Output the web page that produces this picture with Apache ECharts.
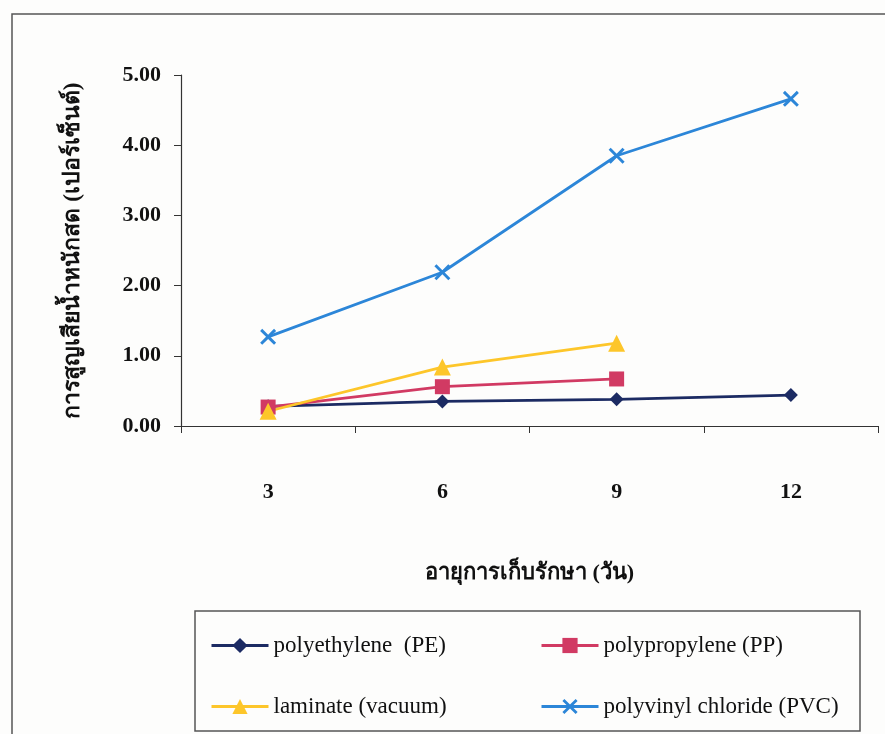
<!DOCTYPE html>
<html>
<head>
<meta charset="utf-8">
<script src="https://cdn.jsdelivr.net/npm/echarts@6/dist/echarts.min.js"></script>
<style>
  html, body { margin: 0; padding: 0; background: #fdfdfc; }
  #chart { width: 885px; height: 734px; }
</style>
</head>
<body>
<div id="chart"></div>
<script>
// Storage time (days)
const days = ['3', '6', '9', '12'];

// Fresh weight loss (%) per packaging type
const pe = [0.28, 0.35, 0.38, 0.44];
const pp = [0.27, 0.56, 0.67, null];
const laminate = [0.21, 0.84, 1.18, null];
const pvc = [1.27, 2.19, 3.85, 4.66];

const seriesNames = [
  'polyethylene  (PE)',
  'polypropylene (PP)',
  'laminate (vacuum)',
  'polyvinyl chloride (PVC)'
];

const yTicks = [0, 1, 2, 3, 4, 5];

const xTitle = 'อายุการเก็บรักษา (วัน)';
const yTitle = 'การสูญเสียน้ำหนักสด (เปอร์เซ็นต์)';

const colors = ['#1c2b63', '#d13a63', '#fdc62a', '#2c86d8'];
const crossPath = 'path://M0,1.3 L1.3,0 L5,3.7 L8.7,0 L10,1.3 L6.3,5 L10,8.7 L8.7,10 L5,6.3 L1.3,10 L0,8.7 L3.7,5 Z';

const serif = '"Liberation Serif", "Times New Roman", serif';
const axisColor = '#333';

function lineSeries(name, data, color, symbol, size) {
  return {
    name: name,
    type: 'line',
    data: data,
    symbol: symbol,
    symbolSize: size,
    showSymbol: true,
    connectNulls: false,
    lineStyle: { color: color, width: 2.8 },
    itemStyle: { color: color },
    emphasis: { disabled: true },
    animation: false
  };
}

const legendBase = {
  orient: 'vertical',
  top: 629,
  itemWidth: 57, itemHeight: 19,
  itemGap: 38,
  lineStyle: { width: 3 },
  textStyle: { color: '#111', fontSize: 23, fontFamily: serif },
  selectedMode: false
};

const chart = echarts.init(document.getElementById('chart'));
chart.setOption({
  backgroundColor: '#fdfdfc',
  animation: false,
  grid: { left: 181, right: 7, top: 75, bottom: 308, containLabel: false },
  xAxis: {
    type: 'category',
    data: days,
    boundaryGap: true,
    name: xTitle,
    nameLocation: 'middle',
    nameGap: 136,
    nameTextStyle: { color: '#111', fontSize: 22, fontWeight: 'bold', fontFamily: serif },
    axisLine: { lineStyle: { color: axisColor, width: 1.2 } },
    axisTick: { show: true, length: 7, alignWithLabel: false, lineStyle: { color: axisColor } },
    axisLabel: { margin: 55, color: '#111', fontSize: 22, fontWeight: 'bold', fontFamily: serif },
    splitLine: { show: false }
  },
  yAxis: {
    type: 'value',
    min: yTicks[0],
    max: yTicks[yTicks.length - 1],
    interval: 1,
    name: yTitle,
    nameLocation: 'middle',
    nameGap: 96,
    nameRotate: 90,
    nameTextStyle: { color: '#111', fontSize: 23, fontWeight: 'bold', fontFamily: serif },
    axisLine: { show: true, lineStyle: { color: axisColor, width: 1.2 } },
    axisTick: { show: true, length: 7, lineStyle: { color: axisColor } },
    axisLabel: {
      margin: 20, color: '#111', fontSize: 22, fontWeight: 'bold', fontFamily: serif,
      formatter: v => v.toFixed(2)
    },
    splitLine: { show: false }
  },
  legend: [
    Object.assign({ data: [seriesNames[0], seriesNames[2]], left: 205 }, legendBase),
    Object.assign({ data: [seriesNames[1], seriesNames[3]], left: 535 }, legendBase)
  ],
  graphic: [
    {
      type: 'rect', silent: true, z: -1,
      shape: { x: 12, y: 14, width: 900, height: 800 },
      style: { fill: 'none', stroke: '#555', lineWidth: 1.5 }
    },
    {
      type: 'rect', silent: true, z: -1,
      shape: { x: 195, y: 611, width: 665, height: 120 },
      style: { fill: 'none', stroke: '#555', lineWidth: 1.5 }
    }
  ],
  series: [
    lineSeries(seriesNames[0], pe, colors[0], 'diamond', 14),
    lineSeries(seriesNames[1], pp, colors[1], 'rect', 15),
    lineSeries(seriesNames[2], laminate, colors[2], 'triangle', 17),
    lineSeries(seriesNames[3], pvc, colors[3], crossPath, 16)
  ]
});
</script>
</body>
</html>
